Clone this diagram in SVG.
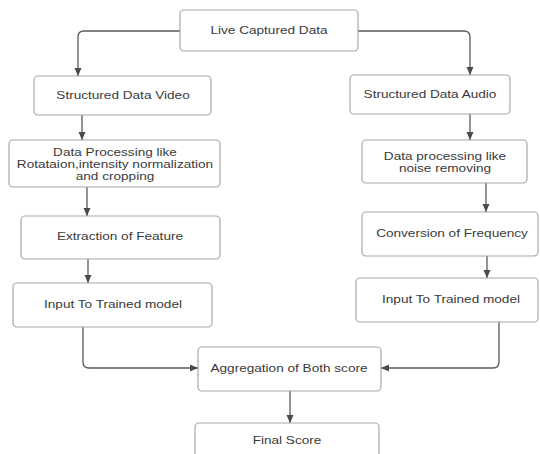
<svg xmlns="http://www.w3.org/2000/svg" width="540" height="454" viewBox="0 0 540 454">
<style>
.box{fill:#fff;stroke:#a8a8a8;stroke-width:1.2}
.t{font-family:"Liberation Sans",Arial,sans-serif;font-size:13.6px;fill:#3a3a3a;text-anchor:middle}
.c{fill:none;stroke:#5a5a5a;stroke-width:1.3}
</style>
<defs>
<marker id="ah" markerUnits="userSpaceOnUse" markerWidth="9" markerHeight="8" refX="8" refY="4" orient="auto">
<path d="M0,0.5 L8,4 L0,7.5 z" fill="#4a4a4a"/>
</marker>
</defs>
<rect width="540" height="454" fill="#fff"/>
<g id="connectors">
<path class="c" marker-end="url(#ah)" d="M180,31 H84 Q78,31 78,37 V76"/>
<path class="c" marker-end="url(#ah)" d="M358,31 H464 Q470,31 470,37 V75"/>
<path class="c" marker-end="url(#ah)" d="M82,115 V140"/>
<path class="c" marker-end="url(#ah)" d="M470,114 V140"/>
<path class="c" marker-end="url(#ah)" d="M87,187 V216"/>
<path class="c" marker-end="url(#ah)" d="M486,183 V212"/>
<path class="c" marker-end="url(#ah)" d="M88,259 V283"/>
<path class="c" marker-end="url(#ah)" d="M487,256 V278"/>
<path class="c" marker-end="url(#ah)" d="M83,327 V362 Q83,368 89,368 H198"/>
<path class="c" marker-end="url(#ah)" d="M499,322 V362 Q499,368 493,368 H381"/>
<path class="c" marker-end="url(#ah)" d="M290,391 V423"/>
</g>
<g id="live"><rect class="box" x="180" y="10" width="178" height="41" rx="4"/>
<g transform="translate(269,34) scale(1,0.8)"><text class="t">Live Captured Data</text></g></g>
<g id="video"><rect class="box" x="34" y="76" width="177" height="39" rx="4"/>
<g transform="translate(123,99) scale(1,0.8)"><text class="t">Structured Data Video</text></g></g>
<g id="audio"><rect class="box" x="350" y="75" width="160" height="39" rx="4"/>
<g transform="translate(430,98) scale(1,0.8)"><text class="t">Structured Data Audio</text></g></g>
<g id="vproc"><rect class="box" x="9" y="140" width="211" height="47" rx="4"/>
<g transform="translate(115,156) scale(1,0.76)"><text class="t">Data Processing like</text></g>
<g transform="translate(115,168) scale(1,0.76)"><text class="t">Rotataion,intensity normalization</text></g>
<g transform="translate(115,180) scale(1,0.76)"><text class="t">and cropping</text></g></g>
<g id="aproc"><rect class="box" x="362" y="140" width="165" height="43" rx="4"/>
<g transform="translate(445,159.5) scale(1,0.76)"><text class="t">Data processing like</text></g>
<g transform="translate(445,171.5) scale(1,0.76)"><text class="t">noise removing</text></g></g>
<g id="extract"><rect class="box" x="21" y="216" width="199" height="43" rx="4"/>
<g transform="translate(120,240) scale(1,0.8)"><text class="t">Extraction of Feature</text></g></g>
<g id="conv"><rect class="box" x="362" y="212" width="176" height="44" rx="4"/>
<g transform="translate(452,237) scale(1,0.8)"><text class="t">Conversion of Frequency</text></g></g>
<g id="vinput"><rect class="box" x="13" y="283" width="199" height="44" rx="4"/>
<g transform="translate(113,308) scale(1,0.8)"><text class="t">Input To Trained model</text></g></g>
<g id="ainput"><rect class="box" x="356" y="278" width="182" height="44" rx="4"/>
<g transform="translate(451,303) scale(1,0.8)"><text class="t">Input To Trained model</text></g></g>
<g id="agg"><rect class="box" x="198" y="347" width="183" height="44" rx="4"/>
<g transform="translate(289,372) scale(1,0.8)"><text class="t">Aggregation of Both score</text></g></g>
<g id="final"><rect class="box" x="195" y="423" width="184" height="44" rx="4"/>
<g transform="translate(287,444) scale(1,0.8)"><text class="t">Final Score</text></g></g>
</svg>
